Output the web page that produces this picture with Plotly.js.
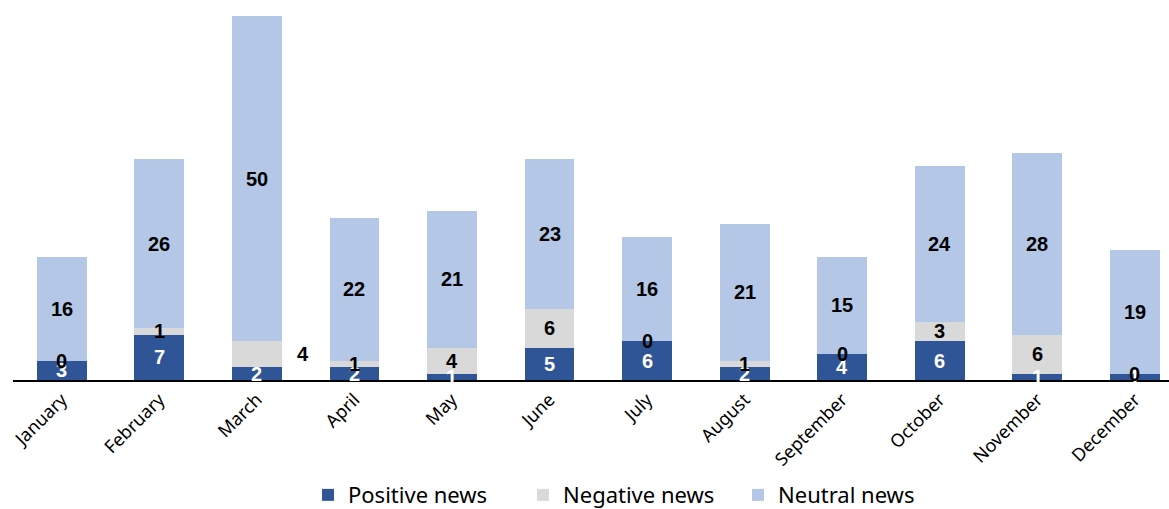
<!DOCTYPE html>
<html>
<head>
<meta charset="utf-8">
<script src="https://cdn.plot.ly/plotly-3.0.1.min.js"></script>
<style>html,body{margin:0;padding:0;background:#fff;}#chart{width:1169px;height:509px;}</style>
</head>
<body>
<div id="chart"></div>
<script>
const months = ["January","February","March","April","May","June","July","August","September","October","November","December"];
const positive = [3,7,2,2,1,5,6,2,4,6,1,1];
const negative = [0,1,4,1,4,6,0,1,0,3,6,0];
const neutral = [16,26,50,22,21,23,16,21,15,24,28,19];

const colors = {pos:"#2F5597", neg:"#D9D9D9", neu:"#B4C7E7"};
const labelFont = "'Liberation Sans Narrow', 'Arial Narrow', 'Liberation Sans', Arial, sans-serif";
const textFont = "'Noto Sans', 'Open Sans', sans-serif";

const traces = [
  {type:"bar", name:"Positive news", x:months, y:positive, marker:{color:colors.pos}, hoverinfo:"none"},
  {type:"bar", name:"Negative news", x:months, y:negative, marker:{color:colors.neg}, hoverinfo:"none"},
  {type:"bar", name:"Neutral news", x:months, y:neutral, marker:{color:colors.neu}, hoverinfo:"none"}
];

const annotations = [];
months.forEach((m,i)=>{
  const series = [[positive,"#ffffff"],[negative,"#000000"],[neutral,"#000000"]];
  let cum = 0;
  series.forEach(([arr,col],k)=>{
    const v = arr[i];
    const a = {x:m, y:cum + v/2, xref:"x", yref:"y", text:String(v), showarrow:false,
      font:{family:labelFont, size:20, color:col, weight:"bold"}, yanchor:"middle", xanchor:"center"};
    if (k===1 && m==="March") { a.xshift = 46; }
    annotations.push(a);
    cum += v;
  });
});

const layout = {
  width:1169, height:509,
  margin:{l:13, r:0, t:10, b:129, autoexpand:false},
  barmode:"stack",
  bargap:0.49,
  paper_bgcolor:"#ffffff", plot_bgcolor:"#ffffff",
  showlegend:true,
  legend:{orientation:"h", x:(308-13)/1156, xanchor:"left", y:-0.311, yanchor:"middle",
    font:{family:textFont, size:22, color:"#000"}, traceorder:"normal", entrywidth:170, entrywidthmode:"pixels"},
  xaxis:{range:[-0.5,11.35], automargin:false, showline:true, linecolor:"#000", linewidth:2, ticks:"", tickangle:-45,
    tickfont:{family:textFont, size:18, color:"#000"}, showgrid:false, fixedrange:true},
  yaxis:{range:[0,57], automargin:false, showgrid:false, zeroline:false, showticklabels:false, ticks:"", showline:false, fixedrange:true},
  annotations:annotations
};

Plotly.newPlot("chart", traces, layout, {displayModeBar:false, staticPlot:true});
</script>
</body>
</html>
